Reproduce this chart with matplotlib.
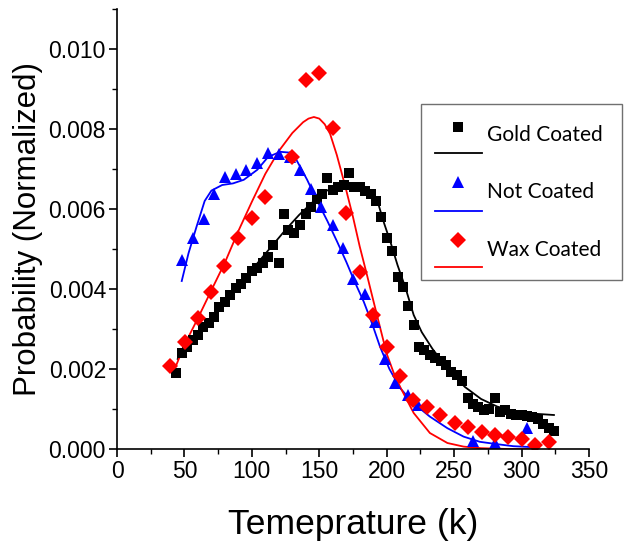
import matplotlib
matplotlib.use('Agg')
import matplotlib.pyplot as plt
from matplotlib.lines import Line2D
from matplotlib.patches import Rectangle
from matplotlib.ticker import MultipleLocator, FormatStrFormatter

# Gold coated samples (T in K, probability x 1e-3)
gold_t = [44, 48, 52, 56, 60, 64, 68, 72, 76, 80, 84, 88, 92, 96, 100, 104, 108, 112,
          116, 120, 124, 127, 131, 136, 140, 144, 148, 152, 156, 160, 164, 168, 172, 176,
          180, 184, 188, 192, 196, 200, 204, 208, 212, 216, 220, 224, 228, 232, 236, 240,
          244, 248, 252, 256, 260, 264, 268, 272, 276, 280, 284, 288, 292, 296, 300, 304,
          308, 312, 316, 320, 324]
gold_p = [1.90, 2.40, 2.55, 2.72, 2.85, 3.05, 3.15, 3.30, 3.55, 3.68, 3.85, 4.02, 4.12,
          4.27, 4.45, 4.52, 4.65, 4.80, 5.10, 4.64, 5.87, 5.48, 5.40, 5.60, 5.87, 6.05,
          6.25, 6.37, 6.78, 6.48, 6.56, 6.60, 6.89, 6.56, 6.54, 6.45, 6.37, 6.20, 5.81,
          5.27, 4.95, 4.31, 4.06, 3.58, 3.10, 2.54, 2.48, 2.36, 2.28, 2.20, 2.10, 1.92,
          1.85, 1.70, 1.27, 1.12, 1.05, 0.98, 1.00, 1.28, 0.92, 0.97, 0.87, 0.85, 0.85,
          0.82, 0.80, 0.74, 0.62, 0.52, 0.45]
gold_fit_t = [45, 55, 65, 75, 85, 95, 105, 115, 125, 135, 145, 155, 165, 172, 180, 186,
              190, 194, 198, 203, 208, 214, 220, 226, 234, 246, 258, 270, 282, 294, 306, 324]
gold_fit_p = [2.25, 2.68, 3.07, 3.50, 3.90, 4.28, 4.68, 5.08, 5.48, 5.85, 6.17, 6.45,
              6.60, 6.64, 6.60, 6.50, 6.35, 6.10, 5.65, 5.15, 4.60, 4.02, 3.35, 2.92,
              2.50, 1.97, 1.55, 1.25, 1.06, 0.95, 0.89, 0.85]

# Uncoated samples
none_t = [48, 56.6, 64.5, 72.2, 80.1, 88, 95.7, 103.6, 111.8, 120.2, 128.3, 135.8, 143.7,
          151.6, 160, 167.9, 175.3, 184, 191.4, 198.8, 206.5, 216, 223.5, 264.3, 280.4, 304]
none_p = [4.73, 5.27, 5.74, 6.38, 6.79, 6.88, 6.98, 7.14, 7.39, 7.38, 7.31, 6.98, 6.50,
          6.06, 5.60, 5.02, 4.25, 3.87, 3.18, 2.25, 1.64, 1.35, 1.10, 0.20, 0.16, 0.52]
none_fit_t = [48, 53, 59, 65, 70, 78, 86, 94, 104, 112, 121, 128, 133, 141, 148, 156, 163,
              170, 176, 183, 189, 195, 202, 210, 220, 232, 245, 257, 269, 282, 294, 306]
none_fit_p = [4.20, 4.89, 5.56, 6.20, 6.46, 6.60, 6.64, 6.73, 6.98, 7.30, 7.43, 7.41,
              7.23, 6.73, 6.23, 5.70, 5.20, 4.68, 4.20, 3.68, 3.15, 2.56, 2.00, 1.52,
              1.14, 0.81, 0.52, 0.31, 0.18, 0.12, 0.07, 0.05]

# Wax coated samples
wax_t = [39.3, 50.4, 59.8, 69.7, 79.6, 90, 99.9, 109.8, 129.6, 140, 150.1, 160, 169.9,
         180.3, 190.2, 200, 210, 219.8, 229.7, 239.6, 250.7, 260, 270.5, 280.4, 290.3,
         300.2, 310.1, 320]
wax_p = [2.07, 2.68, 3.28, 3.93, 4.58, 5.27, 5.78, 6.29, 7.31, 9.22, 9.39, 8.03, 5.89,
         4.43, 3.35, 2.54, 1.83, 1.23, 1.06, 0.85, 0.64, 0.54, 0.43, 0.36, 0.31, 0.24,
         0.10, 0.18]
wax_fit_t = [41, 50, 60, 70, 80, 90, 100, 110, 120, 130, 138, 142, 146, 150, 154, 158, 163,
             169, 175, 180, 185, 190, 195, 200, 205, 210, 220, 232, 245, 257, 270, 290, 306]
wax_fit_p = [1.85, 2.60, 3.27, 3.97, 4.66, 5.45, 6.18, 6.88, 7.45, 7.90, 8.17, 8.26,
             8.30, 8.26, 8.12, 7.88, 7.35, 6.60, 5.80, 5.06, 4.40, 3.72, 3.05, 2.38,
             1.92, 1.55, 0.90, 0.40, 0.15, 0.06, 0.02, 0.0, 0.0]

scale = 1e-3
fig = plt.figure(figsize=(6.24, 5.48), dpi=100)
ax = fig.add_axes([117 / 624, 99 / 548, 472 / 624, 440 / 548])

ax.plot(gold_fit_t, [p * scale for p in gold_fit_p], color='black', lw=1.3)
ax.plot(none_fit_t, [p * scale for p in none_fit_p], color='#0000ff', lw=1.3)
ax.plot(wax_fit_t, [p * scale for p in wax_fit_p], color='#ff0000', lw=1.3)
ax.plot(gold_t, [p * scale for p in gold_p], 's', color='black', ms=6.5, mew=0)
ax.plot(none_t, [p * scale for p in none_p], '^', color='#0000ff', ms=8.5, mew=0)
ax.plot(wax_t, [p * scale for p in wax_p], 'D', color='#ff0000', ms=7.8, mew=0)

ax.set_xlim(0, 350)
ax.set_ylim(0, 0.011)
ax.xaxis.set_major_locator(MultipleLocator(50))
ax.xaxis.set_minor_locator(MultipleLocator(25))
ax.yaxis.set_major_locator(MultipleLocator(0.002))
ax.yaxis.set_minor_locator(MultipleLocator(0.001))
ax.yaxis.set_major_formatter(FormatStrFormatter('%.3f'))
ax.set_yticks([0, 0.002, 0.004, 0.006, 0.008, 0.010])
ax.spines['top'].set_visible(False)
ax.spines['right'].set_visible(False)
for s in ['left', 'bottom']:
    ax.spines[s].set_linewidth(1.2)
ax.tick_params(which='major', direction='out', length=6, width=1.2, labelsize=16.5, pad=2)
ax.tick_params(which='minor', direction='out', length=3.5, width=1.0)
for lab in ax.get_xticklabels() + ax.get_yticklabels():
    lab.set_family('Liberation Sans')

ax.set_xlabel('Temeprature (k)', fontsize=25.5, family='Liberation Sans', labelpad=18)
ax.set_ylabel('Probability (Normalized)', fontsize=22.5, family='Liberation Sans', labelpad=4)

# legend box drawn in figure pixels
def px(x, y):
    return x / 624, 1 - y / 548

x0, y0 = px(421, 280)
x1, y1 = px(622, 104)
fig.add_artist(Rectangle((x0, y0), x1 - x0, y1 - y0, transform=fig.transFigure,
                         facecolor='white', edgecolor='#707070', lw=1.0))
entries = [('Gold Coated', 'black', 's', 6.5, 127, 153, 135),
           ('Not Coated', '#0000ff', '^', 8.5, 182, 211, 192),
           ('Wax Coated', '#ff0000', 'D', 7.8, 240, 267, 250)]
for name, col, mk, size, ym, yl, yt in entries:
    mx, my = px(458, ym)
    fig.add_artist(Line2D([mx], [my], marker=mk, color=col, ms=size, mew=0,
                          transform=fig.transFigure))
    lx0, ly = px(435, yl)
    lx1, _ = px(482, yl)
    fig.add_artist(Line2D([lx0, lx1], [ly, ly], color=col, lw=1.3,
                          transform=fig.transFigure))
    tx, ty = px(487, yt)
    fig.text(tx, ty, name, fontsize=15, family='Lato', va='center', ha='left')

fig.savefig('out.png', dpi=100)
